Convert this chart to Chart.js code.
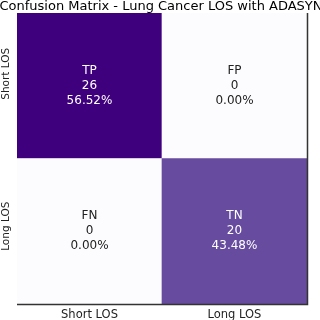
<!DOCTYPE html>
<html>
<head>
<meta charset="utf-8">
<script src="https://cdn.jsdelivr.net/npm/chart.js@4"></script>
<style>
  html, body { margin: 0; padding: 0; background: #fff; }
  #wrap { width: 320px; height: 320px; }
</style>
</head>
<body>
<div id="wrap"><canvas id="cm"></canvas></div>
<script>
const title = 'Confusion Matrix - Lung Cancer LOS with ADASYN';
const classLabels = ['Short LOS', 'Long LOS'];
// rows = actual, cols = predicted
const rowShort = [26, 0];
const rowLong = [0, 20];
const cellNamesShort = ['TP', 'FP'];
const cellNamesLong = ['FN', 'TN'];
const colorsShort = ['#3f007d', '#fcfbfd'];
const colorsLong = ['#fcfbfd', '#664b9f'];

const total = rowShort.concat(rowLong).reduce((a, b) => a + b, 0);

// cell text, rotated y labels, frame and title
const cellText = {
    id: 'cellText',
    afterDatasetsDraw(chart) {
        const ctx = chart.ctx;
        const x = chart.scales.x, y = chart.scales.y;
        const rows = [
            { vals: rowShort, names: cellNamesShort, yv: 1.5 },
            { vals: rowLong, names: cellNamesLong, yv: 0.5 }
        ];
        ctx.save();
        ctx.font = '12px "DejaVu Sans"';
        ctx.textAlign = 'center';
        ctx.textBaseline = 'middle';
        rows.forEach(r => {
            r.vals.forEach((v, i) => {
                const cx = x.getPixelForValue(i);
                const cy = y.getPixelForValue(r.yv);
                ctx.fillStyle = v > 13 ? '#ffffff' : '#222222';
                ctx.fillText(r.names[i], cx, cy - 15);
                ctx.fillText(String(v), cx, cy);
                ctx.fillText((v / total * 100).toFixed(2) + '%', cx, cy + 15);
            });
        });

        // y labels (rotated)
        ctx.fillStyle = '#222';
        ctx.font = '10.5px "DejaVu Sans"';
        [[classLabels[0], 1.5, -12], [classLabels[1], 0.5, -5]].forEach(([t, v, off]) => {
            ctx.save();
            ctx.translate(6, y.getPixelForValue(v) + off);
            ctx.rotate(-Math.PI / 2);
            ctx.fillText(t, 0, 0);
            ctx.restore();
        });

        // frame: right and bottom
        const a = chart.chartArea;
        ctx.strokeStyle = '#333';
        ctx.lineWidth = 1.5;
        ctx.beginPath();
        ctx.moveTo(a.left, a.bottom + 0.5);
        ctx.lineTo(a.right + 0.5, a.bottom + 0.5);
        ctx.lineTo(a.right + 0.5, a.top);
        ctx.stroke();

        ctx.fillStyle = '#000';
        ctx.font = '13px "DejaVu Sans"';
        ctx.textBaseline = 'alphabetic';
        ctx.fillText(title, 161, 10);
        ctx.restore();
    }
};

new Chart(document.getElementById('cm'), {
    type: 'bar',
    data: {
        labels: classLabels,
        datasets: [
            { label: classLabels[1], data: [1, 1], backgroundColor: colorsLong, borderWidth: 0 },
            { label: classLabels[0], data: [1, 1], backgroundColor: colorsShort, borderWidth: 0 }
        ]
    },
    options: {
        responsive: true,
        maintainAspectRatio: false,
        animation: false,
        events: [],
        layout: { padding: { top: 13, right: 13, left: 0, bottom: 0 } },
        datasets: { bar: { barPercentage: 1, categoryPercentage: 1 } },
        plugins: { legend: { display: false }, tooltip: { enabled: false }, title: { display: false } },
        scales: {
            x: {
                stacked: true,
                grid: { display: false, drawTicks: false },
                border: { display: false },
                ticks: { color: '#222', font: { family: 'DejaVu Sans', size: 11.5 }, padding: 4 },
                afterFit(s) { s.height = 16; }
            },
            y: {
                stacked: true,
                min: 0,
                max: 2,
                grid: { display: false, drawTicks: false },
                border: { display: false },
                ticks: { display: false },
                afterFit(s) { s.width = 17; }
            }
        }
    },
    plugins: [cellText]
});
</script>
</body>
</html>
